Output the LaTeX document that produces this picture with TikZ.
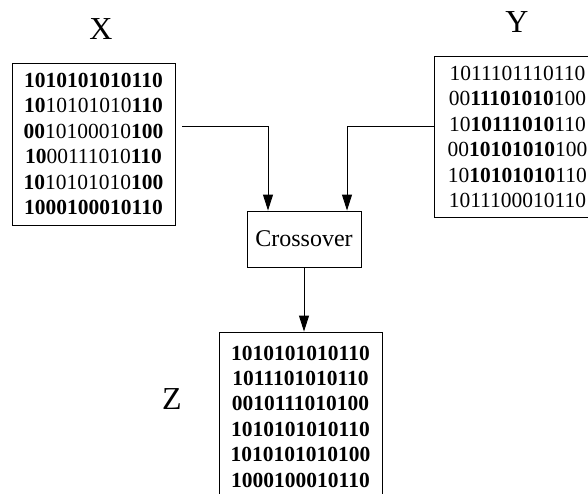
\documentclass[tikz,border=0pt]{standalone}
\usepackage{fontspec}
\setmainfont{Liberation Serif}
\usetikzlibrary{arrows.meta,positioning}

\tikzset{
  chrom/.style={draw,line width=0.9pt,align=center,inner sep=0pt,
    font=\fontsize{21.5}{25.4}\selectfont},
  tag/.style={font=\fontsize{32}{32}\selectfont},
  opbox/.style={draw,line width=0.9pt,inner sep=0pt,minimum width=114pt,
    minimum height=56pt,font=\fontsize{24}{24}\selectfont},
  flow/.style={-{Triangle[length=16pt,width=10pt]},line width=0.9pt}
}

\begin{document}
\begin{tikzpicture}[x=1pt,y=-1pt]
      \useasboundingbox (0,0) rectangle (588,493);
      \clip (0,0) rectangle (588,493);
      % Parents
      \node[tag] (xlab) at (101,29) {X};
      \node[tag] (ylab) at (517,22) {Y};
      \node[chrom,minimum width=163pt,minimum height=162pt] (xpar) at (93.5,144) {%
        \textbf{1010101010110}\\
        \textbf{10}10101010\textbf{110}\\
        \textbf{00}10100010\textbf{100}\\
        \textbf{10}00111010\textbf{110}\\
        \textbf{10}10101010\textbf{100}\\
        \textbf{1000100010110}};
      \node[chrom,anchor=west,minimum width=166pt,minimum height=161pt] (ypar) at (434,137) {%
        1011101110110\\
        00\textbf{11101010}100\\
        10\textbf{10111010}110\\
        00\textbf{10101010}100\\
        10\textbf{10101010}110\\
        1011100010110};
      % Operator
      \node[opbox] (cross) at (304,239) {Crossover};
      % Child
      \node[tag] (zlab) at (172,399) {Z};
      \node[chrom,minimum width=163pt,minimum height=169pt] (zkid) at (300.5,416.5) {%
        \textbf{1010101010110}\\
        \textbf{1011101010110}\\
        \textbf{0010111010100}\\
        \textbf{1010101010110}\\
        \textbf{1010101010100}\\
        \textbf{1000100010110}};
      % Arrows
      \coordinate (xout) at (182,126);
      \draw[flow] (xout) -| ([xshift=-36pt]cross.north);
      \draw[flow] (ypar.west |- xout) -| ([xshift=43pt]cross.north);
      \draw[flow] (cross.south) -- (cross.south |- zkid.north);
    \end{tikzpicture}
\end{document}
